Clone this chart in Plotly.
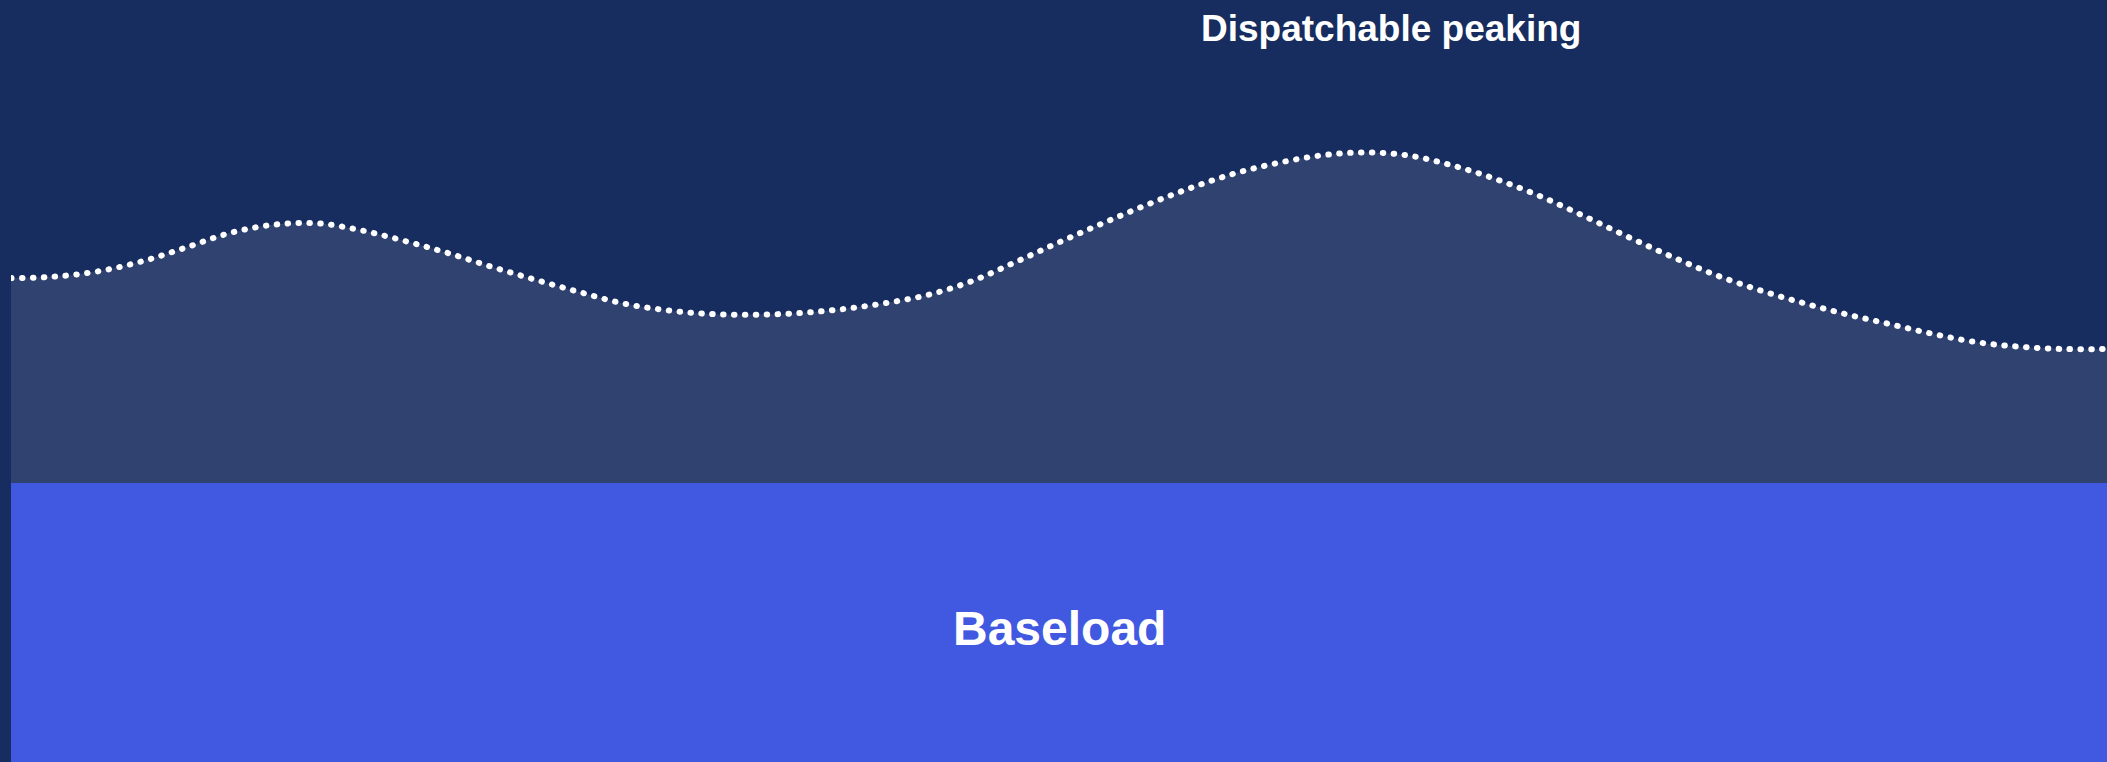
import plotly.graph_objects as go

# Hour of day and total demand (arbitrary units, % of chart height)
hours = [0.0, 0.5, 1.0, 1.5, 2.0, 2.5, 3.0, 3.5, 4.0, 4.5, 5.0, 5.5, 6.0, 6.5, 7.0, 7.5,
         8.0, 8.5, 9.0, 9.5, 10.0, 10.5, 11.0, 11.5, 12.0, 12.5, 13.0, 13.5, 14.0, 14.5,
         15.0, 15.5, 16.0, 16.5, 17.0, 17.5, 18.0, 18.5, 19.0, 19.5, 20.0, 20.5, 21.0,
         21.5, 22.0, 22.5, 23.0, 23.5, 24.0]
demand = [63.5, 63.7, 64.4, 65.7, 67.5, 69.4, 70.5, 70.7, 69.8, 68.4, 66.8, 65.0, 63.3,
          61.7, 60.2, 59.3, 58.8, 58.7, 58.9, 59.4, 60.2, 61.3, 63.1, 65.6, 68.2, 70.7,
          73.1, 75.3, 77.2, 78.6, 79.6, 80.0, 79.6, 78.3, 76.5, 74.3, 71.7, 69.0, 66.4,
          64.0, 62.0, 60.3, 58.8, 57.5, 56.2, 55.1, 54.5, 54.2, 54.2]
baseload_hours = [0, 24]
baseload = [36.6, 36.6]

labels = ["Dispatchable peaking", "Baseload"]
label_x = [15.8, 12.0]

BG = "#172d5f"
PEAK_FILL = "#304270"
BASE_BLUE = "#4158e1"

fig = go.Figure()
fig.add_trace(go.Scatter(
    x=baseload_hours, y=baseload, mode="lines", fill="tozeroy",
    fillcolor=BASE_BLUE, line=dict(width=0, color=BASE_BLUE), hoverinfo="skip",
))
fig.add_trace(go.Scatter(
    x=hours, y=demand, mode="lines", fill="tonexty", fillcolor=PEAK_FILL,
    line=dict(color="white", width=6, dash="0.5px,10.4px", shape="spline", smoothing=1),
    hoverinfo="skip",
))

fig.add_annotation(x=label_x[0], y=1 - 28.5 / 762, xref="x", yref="paper",
                   text="<b>" + labels[0] + "</b>", showarrow=False,
                   xanchor="center", yanchor="middle",
                   font=dict(family="Liberation Sans, Arial, sans-serif", size=37, color="white"))
fig.add_annotation(x=label_x[1], y=17.5, xref="x", yref="y",
                   text="<b>" + labels[1] + "</b>", showarrow=False,
                   xanchor="center", yanchor="middle",
                   font=dict(family="Liberation Sans, Arial, sans-serif", size=48, color="white"))

fig.update_layout(
    width=2107, height=762,
    margin=dict(l=11, r=0, t=0, b=0, pad=0),
    paper_bgcolor=BG, plot_bgcolor=BG,
    showlegend=False, hovermode=False,
    xaxis=dict(range=[0, 24], visible=False, fixedrange=True),
    yaxis=dict(range=[0, 100], visible=False, fixedrange=True),
)

post = """
var gd = document.getElementById('{plot_id}');
gd.querySelectorAll('.scatterlayer .js-line').forEach(function(p){
  p.style.strokeLinecap = 'round';
});
"""
fig.write_html("out.html", post_script=post, config={"displayModeBar": False})
